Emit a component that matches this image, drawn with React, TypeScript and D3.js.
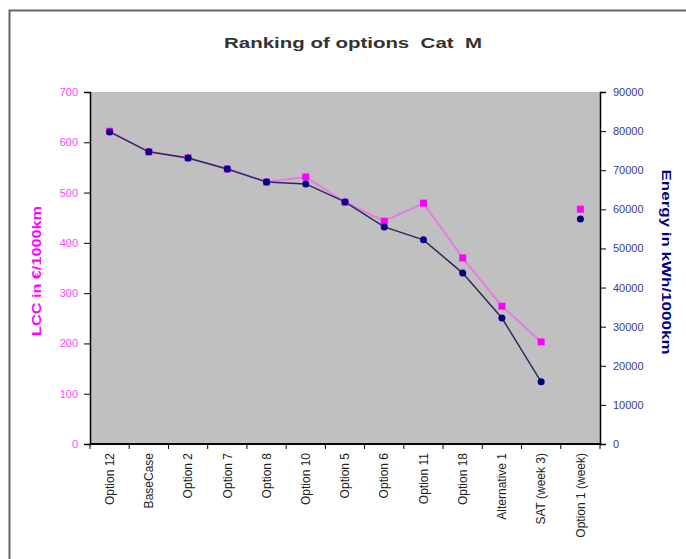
import { useEffect, useRef } from 'react'
import * as d3 from 'd3'

const categories = [
  'Option 12',
  'BaseCase',
  'Option 2',
  'Option 7',
  'Option 8',
  'Option 10',
  'Option 5',
  'Option 6',
  'Option 11',
  'Option 18',
  'Alternative 1',
  'SAT (week 3)',
  'Option 1 (week)',
]

// LCC in €/1000km (left axis)
const lccValues = [622, 581, 569, 547, 521, 531, 481, 443, 479, 370, 274, 203, 467]
// Energy in kWh/1000km (right axis)
const energyValues = [79800, 74700, 73100, 70300, 67000, 66500, 61900, 55500, 52200, 43700, 32200, 15900, 57500]
// the last option is shown as a lone marker, not joined to the line
const joinedCount = 12

const lccTicks = [0, 100, 200, 300, 400, 500, 600, 700]
const energyTicks = [0, 10000, 20000, 30000, 40000, 50000, 60000, 70000, 80000, 90000]

const title = 'Ranking of options  Cat  M'
const lccLabel = 'LCC in €/1000km'
const energyLabel = 'Energy in kWh/1000km'

export default function App() {
  const svgRef = useRef<SVGSVGElement>(null)

  useEffect(() => {
    if (!svgRef.current) return
    const width = 686
    const height = 559
    const margin = { top: 92, right: 86, bottom: 115, left: 90 }
    const innerWidth = width - margin.left - margin.right
    const innerHeight = height - margin.top - margin.bottom

    const svg = d3.select(svgRef.current)
    svg.selectAll('*').remove()

    const font = 'Liberation Sans, Arial, sans-serif'

    // outer chart frame (runs off the right and bottom edges)
    svg
      .append('rect')
      .attr('x', 9.5)
      .attr('y', 10.5)
      .attr('width', 700)
      .attr('height', 600)
      .attr('fill', 'white')
      .attr('stroke', '#666')
      .attr('stroke-width', 2)

    svg
      .append('text')
      .attr('x', 353)
      .attr('y', 48)
      .attr('text-anchor', 'middle')
      .attr('font-family', font)
      .attr('font-size', 14)
      .attr('font-weight', 'bold')
      .attr('fill', '#333')
      .attr('textLength', 258)
      .attr('lengthAdjust', 'spacingAndGlyphs')
      .attr('xml:space', 'preserve')
      .text(title)

    const xScale = d3.scaleBand<string>().domain(categories).range([0, innerWidth])
    const yLeft = d3.scaleLinear().domain([0, 700]).range([innerHeight, 0])
    const yRight = d3.scaleLinear().domain([0, 90000]).range([innerHeight, 0])

    const g = svg.append('g').attr('transform', `translate(${margin.left},${margin.top})`)

    g.append('rect')
      .attr('width', innerWidth)
      .attr('height', innerHeight)
      .attr('fill', '#c0c0c0')

    // left axis
    const leftAxis = g
      .append('g')
      .call(d3.axisLeft(yLeft).tickValues(lccTicks).tickFormat(d3.format('d')).tickSize(6).tickPadding(6))
    leftAxis.select('.domain').attr('stroke', '#000').attr('stroke-width', 1.5)
    leftAxis.selectAll('line').attr('stroke', '#000')
    leftAxis
      .selectAll('text')
      .attr('font-family', font)
      .attr('font-size', 11)
      .attr('fill', '#ff44ff')

    // right axis
    const rightAxis = g
      .append('g')
      .attr('transform', `translate(${innerWidth},0)`)
      .call(d3.axisRight(yRight).tickValues(energyTicks).tickFormat(d3.format('d')).tickSize(6).tickPadding(7))
    rightAxis.select('.domain').attr('stroke', '#000').attr('stroke-width', 1.5)
    rightAxis.selectAll('line').attr('stroke', '#000')
    rightAxis
      .selectAll('text')
      .attr('font-family', font)
      .attr('font-size', 11)
      .attr('fill', '#3a3a90')

    // category axis: ticks between categories
    const bottom = g.append('g').attr('transform', `translate(0,${innerHeight})`)
    bottom
      .append('line')
      .attr('x1', 0)
      .attr('x2', innerWidth)
      .attr('stroke', '#000')
      .attr('stroke-width', 2)
    const edges = categories.map((c) => xScale(c) || 0).concat([innerWidth])
    bottom
      .selectAll('line.tick')
      .data(edges)
      .enter()
      .append('line')
      .attr('class', 'tick')
      .attr('x1', (d) => d)
      .attr('x2', (d) => d)
      .attr('y1', 0)
      .attr('y2', 5)
      .attr('stroke', '#000')
    bottom
      .selectAll('text')
      .data(categories)
      .enter()
      .append('text')
      .attr('transform', (d) => `translate(${(xScale(d) || 0) + xScale.bandwidth() / 2},9) rotate(-90)`)
      .attr('text-anchor', 'end')
      .attr('dy', '0.35em')
      .attr('font-family', font)
      .attr('font-size', 12)
      .attr('fill', '#222')
      .text((d) => d)

    const cx = (i: number) => (xScale(categories[i]) || 0) + xScale.bandwidth() / 2

    // LCC series
    const lccLine = d3
      .line<number>()
      .x((_, i) => cx(i))
      .y((d) => yLeft(d))
    g.append('path')
      .datum(lccValues.slice(0, joinedCount))
      .attr('d', lccLine)
      .attr('fill', 'none')
      .attr('stroke', '#e67ae6')
      .attr('stroke-width', 2)

    // Energy series
    const energyLine = d3
      .line<number>()
      .x((_, i) => cx(i))
      .y((d) => yRight(d))
    g.append('path')
      .datum(energyValues.slice(0, joinedCount))
      .attr('d', energyLine)
      .attr('fill', 'none')
      .attr('stroke', '#2a2a5a')
      .attr('stroke-width', 1.5)

    g.selectAll('rect.lcc')
      .data(lccValues)
      .enter()
      .append('rect')
      .attr('class', 'lcc')
      .attr('x', (_, i) => cx(i) - 3.5)
      .attr('y', (d) => yLeft(d) - 3.5)
      .attr('width', 7)
      .attr('height', 7)
      .attr('fill', '#ff00ff')

    g.selectAll('circle.energy')
      .data(energyValues)
      .enter()
      .append('circle')
      .attr('class', 'energy')
      .attr('cx', (_, i) => cx(i))
      .attr('cy', (d) => yRight(d))
      .attr('r', 3.5)
      .attr('fill', '#000080')

    // axis titles
    svg
      .append('text')
      .attr('transform', `translate(37,271) rotate(-90)`)
      .attr('text-anchor', 'middle')
      .attr('dy', '0.35em')
      .attr('font-family', font)
      .attr('font-size', 12)
      .attr('font-weight', 'bold')
      .attr('fill', '#ff00ff')
      .attr('textLength', 130)
      .attr('lengthAdjust', 'spacingAndGlyphs')
      .text(lccLabel)

    svg
      .append('text')
      .attr('transform', `translate(666,262) rotate(90)`)
      .attr('text-anchor', 'middle')
      .attr('dy', '0.35em')
      .attr('font-family', font)
      .attr('font-size', 12)
      .attr('font-weight', 'bold')
      .attr('fill', '#000080')
      .attr('textLength', 185)
      .attr('lengthAdjust', 'spacingAndGlyphs')
      .text(energyLabel)
  }, [])

  return (
    <svg
      ref={svgRef}
      width={686}
      height={559}
      style={{ position: 'absolute', left: 0, top: 0, display: 'block', background: 'white' }}
    />
  )
}
